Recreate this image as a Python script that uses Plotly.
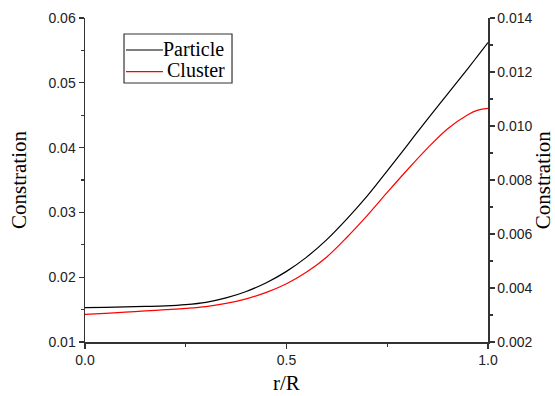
import plotly.graph_objects as go

# r/R positions
r_over_R = [0.0, 0.05, 0.10, 0.15, 0.20, 0.25, 0.30, 0.35, 0.40, 0.45, 0.50,
            0.55, 0.60, 0.65, 0.70, 0.75, 0.80, 0.85, 0.90, 0.95, 0.975, 1.0]

# Particle concentration (left axis)
particle = [0.01531, 0.01535, 0.01541, 0.01549, 0.01558, 0.01577, 0.01612,
            0.01680, 0.01780, 0.01915, 0.02090, 0.02310, 0.02580, 0.02900,
            0.03250, 0.03640, 0.04040, 0.04440, 0.04830, 0.05220, 0.05420, 0.05620]

# Cluster concentration (right axis)
cluster = [0.003026, 0.003063, 0.003104, 0.003152, 0.003196, 0.003244, 0.003311,
           0.003430, 0.003600, 0.003840, 0.004160, 0.004590, 0.005150, 0.005880,
           0.006680, 0.007540, 0.008380, 0.009180, 0.009900, 0.010420, 0.010590, 0.010656]

series_names = ["Particle", "Cluster"]
series_colors = ["black", "#ff0000"]

x_ticks = [0.0, 0.5, 1.0]
x_tick_labels = ["0.0", "0.5", "1.0"]
y1_ticks = [0.01, 0.02, 0.03, 0.04, 0.05, 0.06]
y1_tick_labels = ["0.01", "0.02", "0.03", "0.04", "0.05", "0.06"]
y2_ticks = [0.002, 0.004, 0.006, 0.008, 0.010, 0.012, 0.014]
y2_tick_labels = ["0.002", "0.004", "0.006", "0.008", "0.010", "0.012", "0.014"]

x_title = "r/R"
y_title = "Constration"

serif = "Liberation Serif, Times New Roman, serif"
sans = "Liberation Sans, Arial, sans-serif"

fig = go.Figure()
fig.add_trace(go.Scatter(x=r_over_R, y=particle, mode="lines", name=series_names[0],
                         line=dict(color=series_colors[0], width=1.2, shape="spline"),
                         yaxis="y"))
fig.add_trace(go.Scatter(x=r_over_R, y=cluster, mode="lines", name=series_names[1],
                         line=dict(color=series_colors[1], width=1.2, shape="spline"),
                         yaxis="y2"))

axis_common = dict(showgrid=False, zeroline=False, showline=True, automargin=False,
                   linecolor="#333", linewidth=1.5, ticks="outside",
                   tickcolor="#333", tickwidth=1.2, ticklen=5,
                   tickfont=dict(family=sans, size=14, color="#222"))

title_font = dict(family=serif, size=21, color="black")

# manual legend (box, sample lines, labels) in paper coordinates
shapes = [dict(type="rect", xref="paper", yref="paper", x0=0.0968, x1=0.3648,
               y0=0.7994, y1=0.9506, line=dict(color="#333", width=1.2),
               fillcolor="white", layer="above")]
legend_rows_y = [0.9012, 0.8343]
annotations = []
for name, color, yy, tx in zip(series_names, series_colors, legend_rows_y, [0.1910, 0.2010]):
    shapes.append(dict(type="line", xref="paper", yref="paper", x0=0.1017, x1=0.1935,
                       y0=yy, y1=yy, line=dict(color=color, width=1.2), layer="above"))
    annotations.append(dict(text=name, xref="paper", yref="paper", x=tx, y=yy + 0.004,
                            xanchor="left", yanchor="middle", showarrow=False,
                            borderpad=0,
                            font=dict(family=serif, size=20, color="black")))

# x-axis title and right y-axis title placed in the margins
annotations.append(dict(text=x_title, xref="paper", yref="paper", x=0.5, y=-0.128,
                        xanchor="center", yanchor="middle", showarrow=False,
                        borderpad=0, font=title_font))
annotations.append(dict(text=y_title, xref="paper", yref="paper", x=1.137, y=0.5,
                        xanchor="center", yanchor="middle", showarrow=False,
                        borderpad=0, textangle=-90, font=title_font))

fig.update_layout(
    width=555, height=396,
    margin=dict(l=85, r=67, t=18, b=54),
    paper_bgcolor="white", plot_bgcolor="white",
    showlegend=False,
    shapes=shapes, annotations=annotations,
    xaxis=dict(range=[0, 1], tickvals=x_ticks, ticktext=x_tick_labels,
               minor=dict(dtick=0.25, tick0=0, ticks="outside", ticklen=3,
                          tickcolor="#333", tickwidth=1.2),
               **axis_common),
    yaxis=dict(range=[0.01, 0.06], tickvals=y1_ticks, ticktext=y1_tick_labels,
               minor=dict(dtick=0.005, tick0=0.01, ticks="outside", ticklen=3,
                          tickcolor="#333", tickwidth=1.2),
               title=dict(text=y_title, font=title_font, standoff=16),
               **axis_common),
    yaxis2=dict(range=[0.002, 0.014], tickvals=y2_ticks, ticktext=y2_tick_labels,
                overlaying="y", side="right", anchor="x",
                minor=dict(dtick=0.001, tick0=0.002, ticks="outside", ticklen=3,
                           tickcolor="#333", tickwidth=1.2),
                **axis_common),
)

# remove the default page margin so the 555x396 figure fills the window exactly
fig.write_html("out.html",
               config={"displayModeBar": False, "staticPlot": True},
               post_script="document.body.style.margin='0';document.body.style.overflow='hidden';")
